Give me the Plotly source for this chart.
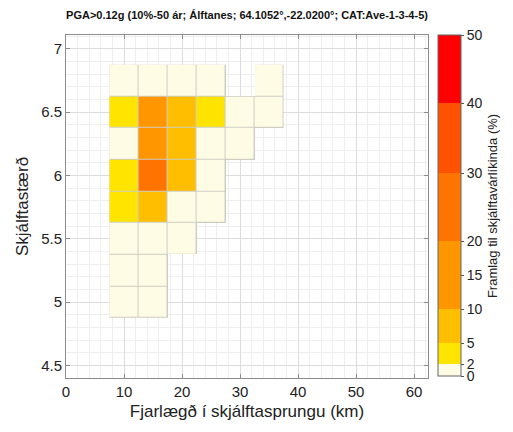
import numpy as np
import plotly.graph_objects as go

# ---- data ----
distance_km = [10, 15, 20, 25, 30, 35]
magnitude = [5.0, 5.25, 5.5, 5.75, 6.0, 6.25, 6.5, 6.75]
# contribution (%) rows = magnitude, cols = distance
contrib = [
    [0.5, 0.6, None, None, None, None],
    [0.7, 0.8, None, None, None, None],
    [1.0, 1.2, 0.8, None, None, None],
    [3.5, 7.0, 1.5, 0.6, None, None],
    [4.0, 24.0, 8.0, 1.2, None, None],
    [1.8, 13.0, 8.5, 1.5, 0.8, None],
    [3.0, 12.0, 7.5, 2.8, 1.2, 0.6],
    [0.8, 1.5, 1.6, 1.0, None, 0.3],
]
cbar_levels = [0, 2, 5, 10, 15, 20, 30, 40, 50]
cbar_ticktext = ["0", "2", "5", "10", "15", "20", "30", "40", "50"]

title = "PGA>0.12g (10%-50 ár; Álftanes; 64.1052°,-22.0200°; CAT:Ave-1-3-4-5)"
xlabel = "Fjarlægð í skjálftasprungu (km)"
ylabel = "Skjálftastærð"
cbar_title = "Framlag til skjálftavárlíkinda (%)"

# ---- non-uniform colorbar scale (display coordinate) ----
level_pos = [0, 12, 33, 67, 101, 135, 203, 273, 341]
bin_colors = ["rgb(255,252,230)", "rgb(255,228,0)", "rgb(255,190,0)",
              "rgb(255,150,0)", "rgb(255,150,0)", "rgb(255,116,0)",
              "rgb(255,82,0)", "rgb(255,0,0)"]
umax = level_pos[-1]
colorscale = []
for i, c in enumerate(bin_colors):
    colorscale.append([level_pos[i] / umax, c])
    colorscale.append([level_pos[i + 1] / umax, c])

z = np.array([[np.nan if v is None else v for v in row] for row in contrib], dtype=float)
zu = np.where(np.isnan(z), np.nan, np.interp(np.nan_to_num(z), cbar_levels, level_pos))

font = "Liberation Sans, Arial, sans-serif"
fig = go.Figure()
# gray underlay to produce cell borders
fig.add_trace(go.Heatmap(
    x=distance_km, y=magnitude, z=np.where(np.isnan(z), np.nan, 1.0),
    colorscale=[[0, "rgb(205,205,195)"], [1, "rgb(205,205,195)"]],
    showscale=False, hoverinfo="skip", zmin=0, zmax=1,
))
fig.add_trace(go.Heatmap(
    x=distance_km, y=magnitude, z=zu, customdata=z,
    colorscale=colorscale, zmin=0, zmax=umax, xgap=1, ygap=1,
    hovertemplate="%{x} km, M%{y}: %{customdata:.1f}%<extra></extra>",
    colorbar=dict(
        tickvals=level_pos, ticktext=cbar_ticktext,
        tickfont=dict(size=14, family=font, color="#222"),
        ticks="outside", ticklen=3, tickcolor="#555",
        thickness=23, lenmode="pixels", len=341, ypad=0, xpad=0,
        x=1.0276, xanchor="left", y=0.5015, yanchor="middle",
        outlinewidth=1, outlinecolor="#666",
        title=dict(text=cbar_title, side="right",
                   font=dict(size=13, family=font, color="#222")),
    ),
))

axis_common = dict(
    showline=True, linecolor="#8c8c8c", linewidth=1, mirror="allticks",
    ticks="inside", ticklen=4, tickcolor="#8c8c8c", automargin=False,
    showgrid=True, gridcolor="#dddddd", gridwidth=1, zeroline=False,
    tickfont=dict(size=15, family=font, color="#222"),
)
fig.update_xaxes(range=[0, 62.4], tickvals=[0, 10, 20, 30, 40, 50, 60],
                 minor=dict(dtick=2, tick0=0, showgrid=True, gridcolor="#eeeeee", ticks=""),
                 title=dict(text=xlabel, font=dict(size=17, family=font, color="#222"), standoff=6),
                 **axis_common)
fig.update_yaxes(range=[4.4, 7.11], tickvals=[4.5, 5, 5.5, 6, 6.5, 7],
                 ticktext=["4.5", "5", "5.5", "6", "6.5", "7"],
                 minor=dict(dtick=0.1, tick0=0, showgrid=True, gridcolor="#eeeeee", ticks=""),
                 title=dict(text=ylabel, font=dict(size=17, family=font, color="#222"), standoff=8),
                 **axis_common)
fig.update_layout(
    width=513, height=432,
    margin=dict(l=66, r=85, t=35, b=54, autoexpand=False),
    paper_bgcolor="white", plot_bgcolor="white",
    title=dict(text="<b>" + title + "</b>", x=247 / 513, xanchor="center",
               y=1 - 15 / 432, yanchor="middle",
               font=dict(size=11, family=font, color="#111")),
)
fig.write_html("out.html", config={"displayModeBar": False},
               post_script="document.body.style.margin='0';document.body.style.overflow='hidden';")
